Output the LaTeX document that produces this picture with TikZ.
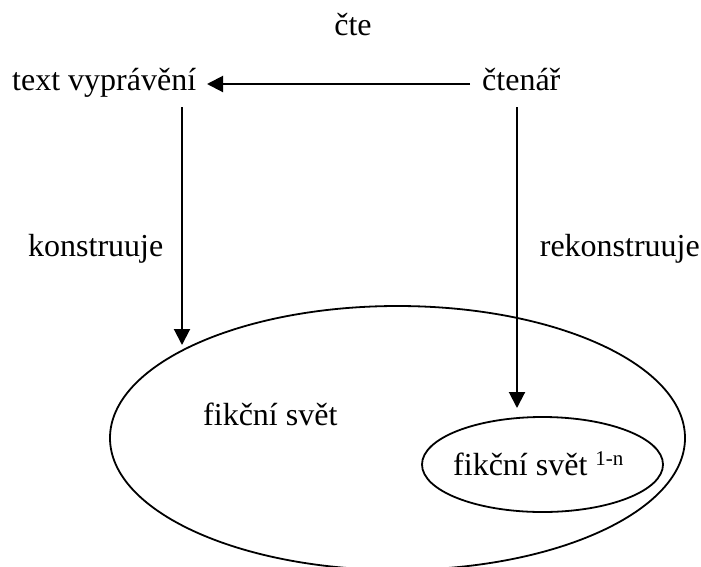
\documentclass[tikz,border=0pt]{standalone}
\usepackage{fontspec}
\setmainfont{Liberation Serif}
\usetikzlibrary{arrows.meta,shapes.geometric}
\begin{document}
\begin{tikzpicture}[x=1pt,y=-1pt,
  lbl/.style={inner sep=0pt,font=\fontsize{32}{38}\selectfont},
  arr/.style={line width=2pt,-{Triangle[length=16pt,width=16pt]}},
  oval/.style={draw,ellipse,line width=1.8pt,inner sep=0pt}]
\useasboundingbox (0,0) rectangle (701,566);
\begin{scope}
\clip (0,0) rectangle (701,566);

% worlds
\node[oval,minimum width=575pt,minimum height=264pt] (world) at (397.5,438) {};
\node[oval,minimum width=241pt,minimum height=95pt] (sub) at (542.5,464.5) {};

% labels
\node[lbl,anchor=base] (cte) at (353,35) {čte};
\node[lbl,anchor=base west] (text) at (12,90) {text vyprávění};
\node[lbl,anchor=base west] (reader) at (482,90) {čtenář};
\node[lbl,anchor=base west] (kon) at (28,256) {konstruuje};
\node[lbl,anchor=base east] (rekon) at (700,256) {rekonstruuje};
\node[lbl,anchor=base west] (fs) at (203,425) {fikční svět};
\node[lbl,anchor=base west] (fsn) at (453,475)
  {fikční svět {\fontsize{21}{21}\selectfont\raisebox{10pt}{1-n}}};

% arrow ends
\coordinate (h1) at (470,84);
\coordinate (h2) at (207,84);
\coordinate (l1) at (182,107);
\coordinate (l2) at (182,345);
\coordinate (r1) at (517,107);
\coordinate (r2) at (517,408);

% connectors
\draw[arr] (h1) -- (h2);
\draw[arr] (l1) -- (l2);
\draw[arr] (r1) -- (r2);
\end{scope}
\end{tikzpicture}
\end{document}
